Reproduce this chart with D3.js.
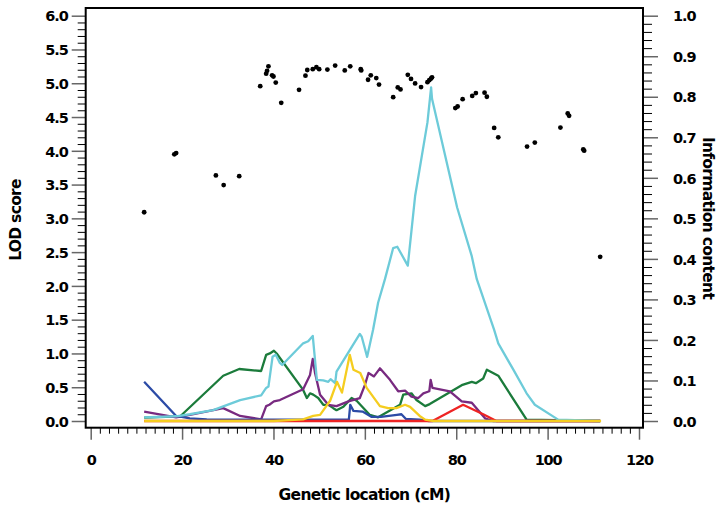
<!DOCTYPE html>
<html><head><meta charset="utf-8">
<script src="https://cdn.jsdelivr.net/npm/d3@7"></script>
<style>
html,body{margin:0;padding:0;background:#fff;}
svg text{font-family:"DejaVu Sans",Arial,Helvetica,sans-serif;font-weight:bold;fill:#000;}
</style></head>
<body>
<svg id="chart" width="717" height="511"></svg>
<script>
// ---- data ----
const xTicks = [0, 20, 40, 60, 80, 100, 120];
const lodTicks = [0, 0.5, 1, 1.5, 2, 2.5, 3, 3.5, 4, 4.5, 5, 5.5, 6];
const infoTicks = [0, 0.1, 0.2, 0.3, 0.4, 0.5, 0.6, 0.7, 0.8, 0.9, 1.0];

// information content dots [cM, value]
const infoPoints = [
 [11.7,0.515],[18.3,0.658],[18.7,0.661],[27.4,0.606],[29.1,0.582],[32.5,0.604],
 [37.1,0.826],[38.4,0.857],[38.6,0.864],[38.9,0.875],[39.7,0.853],[40.0,0.850],
 [40.5,0.835],[41.7,0.785],[45.6,0.817],[47.0,0.852],[47.4,0.866],[48.6,0.868],
 [49.4,0.873],[50.0,0.868],[51.8,0.867],[53.5,0.877],[55.6,0.865],[56.8,0.875],
 [59.1,0.868],[59.2,0.865],[60.7,0.842],[61.3,0.853],[62.5,0.846],[63.1,0.830],
 [66.2,0.799],[67.2,0.823],[67.8,0.818],[69.4,0.854],[70.1,0.844],[71.0,0.833],
 [72.3,0.824],[73.7,0.836],[74.1,0.841],[74.5,0.845],[74.7,0.848],
 [79.8,0.772],[80.3,0.776],[81.4,0.794],[83.5,0.802],[84.3,0.809],[86.2,0.810],
 [86.7,0.800],[88.3,0.723],[89.2,0.700],[95.5,0.677],[97.2,0.687],[102.8,0.724],
 [104.4,0.759],[104.7,0.753],[107.8,0.670],[108.0,0.667],[111.5,0.405]
];

// LOD score series [cM, LOD]
const green = [
 [11.7,0.05],[19.6,0.07],[29.0,0.67],[32.5,0.77],[37.3,0.74],[38.4,0.98],[39.2,1.0],
 [40.1,1.04],[40.7,1.0],[46.5,0.46],[47.3,0.34],[48.0,0.41],[48.7,0.39],[49.8,0.34],
 [50.9,0.24],[52.0,0.24],[53.1,0.19],[53.8,0.16],[55.3,0.21],[57.1,0.34],[58.2,0.30],
 [61.1,0.09],[62.9,0.055],[67.7,0.24],[68.4,0.39],[70.2,0.41],[71.3,0.31],[73.2,0.22],
 [74.2,0.25],[81.2,0.53],[83.4,0.58],[84.3,0.56],[85.9,0.63],[86.7,0.76],[89.2,0.67],
 [95.4,0.02],[111.5,0.0]
];
const purple = [
 [11.7,0.14],[18.7,0.055],[21.7,0.09],[29.0,0.19],[32.7,0.075],[37.3,0.025],[38.4,0.22],
 [39.1,0.24],[40.1,0.29],[41.4,0.31],[46.5,0.47],[48.0,0.68],[48.6,0.92],[49.1,0.71],
 [50.2,0.39],[52.0,0.24],[53.8,0.22],[56.4,0.29],[58.9,0.34],[60.0,0.53],[60.8,0.71],
 [62.0,0.66],[63.3,0.78],[65.5,0.61],[67.3,0.44],[68.8,0.45],[70.2,0.36],[71.7,0.34],
 [72.8,0.41],[74.1,0.44],[74.4,0.61],[74.8,0.49],[78.6,0.44],[81.2,0.29],[83.4,0.27],
 [86.3,0.04],[88.0,0.0],[111.5,0.0]
];
const blue = [
 [11.7,0.58],[18.7,0.075],[21.7,0.04],[25.4,0.025],[40.0,0.02],[56.5,0.02],[56.8,0.24],
 [57.5,0.15],[59.5,0.14],[61.5,0.06],[63.5,0.06],[67.0,0.09],[68.0,0.10],[69.0,0.03],
 [72.0,0.02],[74.0,0.0],[111.5,0.0]
];
const red = [
 [11.7,0.0],[74.8,0.0],[81.5,0.24],[83.7,0.17],[85.9,0.10],[88.8,0.0],[111.5,0.0]
];
const cyan = [
 [11.7,0.055],[18.7,0.07],[21.7,0.10],[26.8,0.16],[32.7,0.31],[37.3,0.38],[38.4,0.49],
 [38.9,0.51],[39.8,0.95],[40.5,0.98],[41.4,0.86],[41.9,0.83],[46.5,1.15],[47.6,1.18],
 [48.6,1.26],[49.5,0.61],[50.9,0.60],[52.0,0.58],[52.5,0.62],[53.5,0.56],[53.8,0.73],
 [56.7,1.05],[58.9,1.29],[59.3,1.25],[60.5,0.95],[61.8,1.35],[62.9,1.75],[64.4,2.10],
 [66.2,2.56],[67.1,2.58],[69.4,2.30],[71.0,3.33],[73.7,4.42],[74.5,4.94],[74.7,4.77],
 [80.2,3.16],[83.4,2.44],[84.5,2.10],[88.3,1.35],[89.2,1.15],[92.5,0.76],[95.4,0.41],
 [97.2,0.24],[102.3,0.02],[111.5,0.0]
];
const yellow = [
 [11.7,0.0],[40.0,0.0],[46.5,0.025],[48.7,0.075],[50.2,0.09],[52.4,0.30],[53.9,0.58],
 [55.0,0.42],[56.7,0.98],[57.5,0.76],[59.0,0.71],[60.4,0.49],[63.3,0.22],[65.1,0.19],
 [66.9,0.19],[68.8,0.24],[69.9,0.21],[72.0,0.075],[73.2,0.02],[75.0,0.0],[111.7,0.0]
];
const seriesList = [
 {data: green, color: "#1b7b3b"},
 {data: purple, color: "#782a80"},
 {data: blue, color: "#2c4ba6"},
 {data: red, color: "#ee2424"},
 {data: cyan, color: "#6dcbd9"},
 {data: yellow, color: "#f5cd1f"}
];

// ---- layout ----
const svg = d3.select("#chart");
const L = 85.7, R = 643, T = 8, B = 427.7;
const x = d3.scaleLinear().domain([0,120]).range([90.7, 639]);
const yL = d3.scaleLinear().domain([0,6]).range([421, 15.7]);
const yR = d3.scaleLinear().domain([0,1]).range([421, 15.7]);

// minor ticks
const minorX = d3.range(0, 121, 2).filter(v => v % 20 !== 0);
const minorL = d3.range(0, 61, 1).map(v => v/10).filter((v,i) => i % 5 !== 0);
const minorR = d3.range(0, 51, 1).map(v => v/50).filter((v,i) => i % 5 !== 0);

function styleAxis(g){
  g.select(".domain").remove();
  g.selectAll("line").attr("stroke","#000").attr("stroke-width",1);
}
const tickFont = 14.5, tickSpacing = "-1.1px";

// left
svg.append("g").attr("transform",`translate(${L},0)`)
  .call(d3.axisLeft(yL).tickValues(minorL).tickSize(8).tickFormat(""))
  .call(styleAxis);
const gl = svg.append("g").attr("transform",`translate(${L},0)`)
  .call(d3.axisLeft(yL).tickValues(lodTicks).tickSize(14).tickPadding(4).tickFormat(d3.format(".1f")))
  .call(styleAxis);
gl.selectAll("line").attr("stroke","#666").attr("stroke-width",1.5);
gl.selectAll("text").attr("font-size",tickFont).attr("letter-spacing",tickSpacing).attr("dy","0.36em");

// right
svg.append("g").attr("transform",`translate(${R},0)`)
  .call(d3.axisRight(yR).tickValues(minorR).tickSize(9).tickFormat(""))
  .call(styleAxis);
const gr = svg.append("g").attr("transform",`translate(${R},0)`)
  .call(d3.axisRight(yR).tickValues(infoTicks).tickSize(15).tickPadding(15).tickFormat(d3.format(".1f")))
  .call(styleAxis);
gr.selectAll("line").attr("stroke","#666").attr("stroke-width",1.5);
gr.selectAll("text").attr("font-size",tickFont).attr("letter-spacing",tickSpacing).attr("dy","0.36em");

// bottom
svg.append("g").attr("transform",`translate(0,${B})`)
  .call(d3.axisBottom(x).tickValues(minorX).tickSize(6).tickFormat(""))
  .call(styleAxis);
const gb = svg.append("g").attr("transform",`translate(0,${B})`)
  .call(d3.axisBottom(x).tickValues(xTicks).tickSize(12).tickPadding(15).tickFormat(d3.format("d")))
  .call(styleAxis);
gb.selectAll("line").attr("stroke","#666").attr("stroke-width",1.5);
gb.selectAll("text").attr("font-size",tickFont).attr("letter-spacing",tickSpacing);

// lines
const line = d3.line().x(d => x(d[0])).y(d => yL(d[1]));
svg.append("g").selectAll("path").data(seriesList).join("path")
  .attr("d", d => line(d.data))
  .attr("fill","none")
  .attr("stroke", d => d.color)
  .attr("stroke-width", 2.3)
  .attr("stroke-linejoin","round");

// dots
svg.append("g").selectAll("circle").data(infoPoints).join("circle")
  .attr("cx", d => x(d[0])).attr("cy", d => yR(d[1])).attr("r", 2.4)
  .attr("fill","#000");

// frame
svg.append("rect").attr("x",L).attr("y",T).attr("width",R-L).attr("height",B-T)
  .attr("fill","none").attr("stroke","#000").attr("stroke-width",2);

// titles
const titleFont = 15.5, titleSpacing = "-0.7px";
svg.append("text").attr("x",(L+R)/2).attr("y",500).attr("text-anchor","middle")
  .attr("font-size",titleFont).attr("letter-spacing",titleSpacing).text("Genetic location (cM)");
svg.append("text").attr("transform","translate(21,220) rotate(-90)").attr("text-anchor","middle")
  .attr("font-size",titleFont).attr("letter-spacing",titleSpacing).text("LOD score");
svg.append("text").attr("transform","translate(703,218) rotate(90)").attr("text-anchor","middle")
  .attr("font-size",titleFont).attr("letter-spacing",titleSpacing).text("Information content");
</script>
</body></html>
